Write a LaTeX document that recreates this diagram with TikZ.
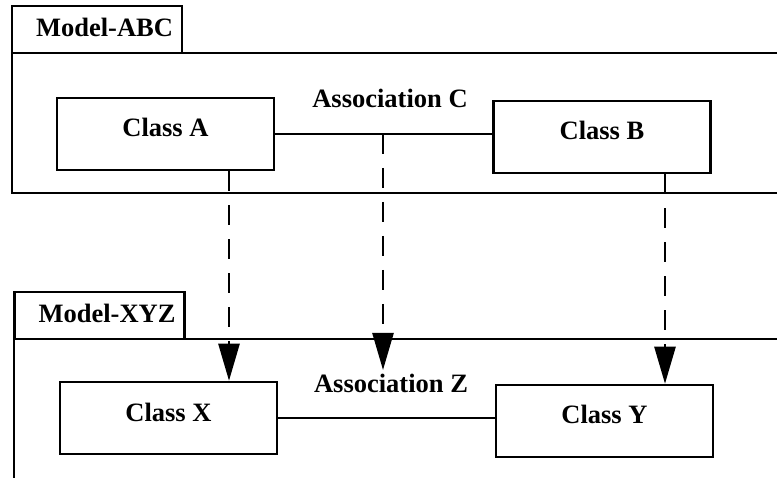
\documentclass[tikz,border=0pt]{standalone}
\usepackage{fontspec}
\setmainfont{Liberation Serif}
\usetikzlibrary{arrows.meta}
\usetikzlibrary{positioning}
\tikzset{
    umltext/.style={font=\fontsize{26.5pt}{30pt}\selectfont\bfseries},
    classbox/.style={umltext, draw, line width=2.5pt, minimum width=217pt, minimum height=72pt, inner sep=0pt, text height=18pt, text depth=12pt},
    pkgtab/.style={umltext, draw, line width=2.5pt, minimum height=47pt, inner ysep=0pt, inner xsep=9pt, text width=152pt, align=right, text height=18pt, text depth=4pt},
    realize/.style={line width=2.5pt, dash pattern=on 20pt off 14pt, -{Triangle[length=37pt, width=21pt]}}
}

\begin{document}
\begin{tikzpicture}[x=1pt, y=-1pt]
                \clip (0, 0) rectangle (777, 478);
                \draw[line width=2.5pt] (12, 53) rectangle (800, 193);
                \draw[line width=2.5pt] (14, 339) rectangle (800, 500);
                \node[pkgtab] (tabABC) at (97, 29.5) {Model-ABC};
                \node[pkgtab] (tabXYZ) at (99.5, 315.5) {Model-XYZ};
                \node[classbox] (classA) at (165.5, 134) {Class A};
                \node[classbox] (classB) at (602, 137) {Class B};
                \node[classbox] (classX) at (168.5, 418) {Class X};
                \node[classbox] (classY) at (604.5, 421) {Class Y};
                \node[umltext] (assocC) at (390, 98) {Association C};
                \node[umltext] (assocZ) at (391, 383) {Association Z};
                \draw[line width=2.5pt] (classA.east) -- (classA.east -| classB.west);
                \draw[line width=2.5pt] (classX.east) -- (classX.east -| classY.west);
                \coordinate (traceA) at (229, 0);
                \coordinate (traceC) at (383, 0);
                \coordinate (traceB) at (665, 0);
                \coordinate (tipC) at (383, 370);
                \draw[realize] (classA.south -| traceA) -- (classX.north -| traceA);
                \draw[realize] (classA.east -| traceC) -- (tipC);
                \draw[realize] (classB.south -| traceB) -- (classY.north -| traceB);
            \end{tikzpicture}
\end{document}
